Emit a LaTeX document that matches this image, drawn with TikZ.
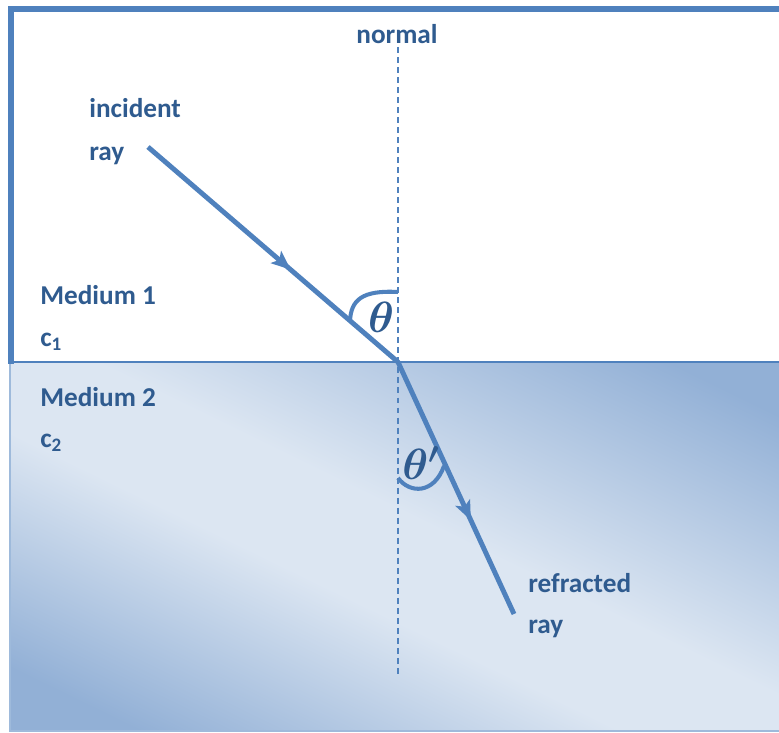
\documentclass[tikz,border=0pt]{standalone}
\usepackage{fontspec}
\setmainfont{Carlito}
\usetikzlibrary{arrows.meta,decorations.markings}

\definecolor{raycol}{HTML}{4F81BD}
\definecolor{labelcol}{HTML}{2F5B8F}
\definecolor{deepwater}{HTML}{92B0D6}
\definecolor{palewater}{HTML}{DCE6F2}

% water body: pale band across the middle, deeper towards two corners
\pgfdeclareverticalshading{water}{100bp}{color(0bp)=(deepwater); color(22bp)=(deepwater);
    color(43bp)=(palewater); color(53bp)=(palewater); color(78bp)=(deepwater); color(100bp)=(deepwater)}

\begin{document}
\begin{tikzpicture}[x=0.02cm, y=-0.02cm,
    lbl/.style={text=labelcol, font=\fontsize{15.5}{18}\selectfont\bfseries, inner sep=0pt, anchor=base west},
    anglbl/.style={text=labelcol, font=\fontsize{24}{24}\selectfont\boldmath, inner sep=0pt},
    ray/.style={draw=raycol, line width=2.8pt, line join=round},
    angmark/.style={draw=raycol, line width=2.3pt},
    normalline/.style={draw=raycol, line width=1.1pt, dash pattern=on 3.4pt off 2.3pt}]

    \useasboundingbox (0,0) rectangle (779,733);
    \clip (0,0) rectangle (779,733);

    % --- Medium 2 below the boundary ---
    \shade[shading=water, shading angle=-26] (10,362) rectangle (800,731);
    \draw[raycol!55, line width=1pt] (10,362) -- (10,731) -- (800,731);

    % --- Medium 1 above the boundary ---
    \draw[raycol, line width=3.4pt] (11,364) -- (11,9) -- (800,9);
    \draw[raycol, line width=1.2pt] (11,362) -- (800,362);

    % The normal, dashed, through the point where the ray hits
    \node[lbl, anchor=base] (normal) at (397,44) {normal};
    \coordinate (ntop) at (398,47);
    \coordinate (nbot) at (398,675);
    \draw[normalline] (ntop) -- (nbot);

    % --- Rays ---
    \coordinate (src) at (148,147);
    \coordinate (hit) at (398,362);
    \coordinate (dst) at (514,614);
    \draw[ray, postaction={decorate}, decoration={markings,
        mark=at position 0.31 with {\arrow{Stealth[length=11pt, width=9pt, inset=2.5pt]}},
        mark=at position 0.83 with {\arrow{Stealth[length=11pt, width=9pt, inset=2.5pt]}}}]
        (src) -- (hit) -- (dst);

    % Angles to the normal
    \draw[angmark] (398,292) .. controls (362,290) and (351,300) .. (350,321);
    \draw[angmark] (398,478) .. controls (410,494) and (434,494) .. (444,466);
    \node[anglbl] (theta) at (381,317) {$\theta$};
    \node[anglbl] (thetap) at (421,463) {$\theta'$};

    % Labels
    \node[lbl] (incident) at (89,118) {incident};
    \node[lbl] (incray) at (89,161) {ray};
    \node[lbl] (medone) at (40,305) {Medium 1};
    \node[lbl] (cone) at (40,347) {c\textsubscript{1}};
    \node[lbl] (medtwo) at (40,407) {Medium 2};
    \node[lbl] (ctwo) at (40,448) {c\textsubscript{2}};
    \node[lbl] (refracted) at (528,593) {refracted};
    \node[lbl] (refray) at (528,634) {ray};
\end{tikzpicture}
\end{document}
